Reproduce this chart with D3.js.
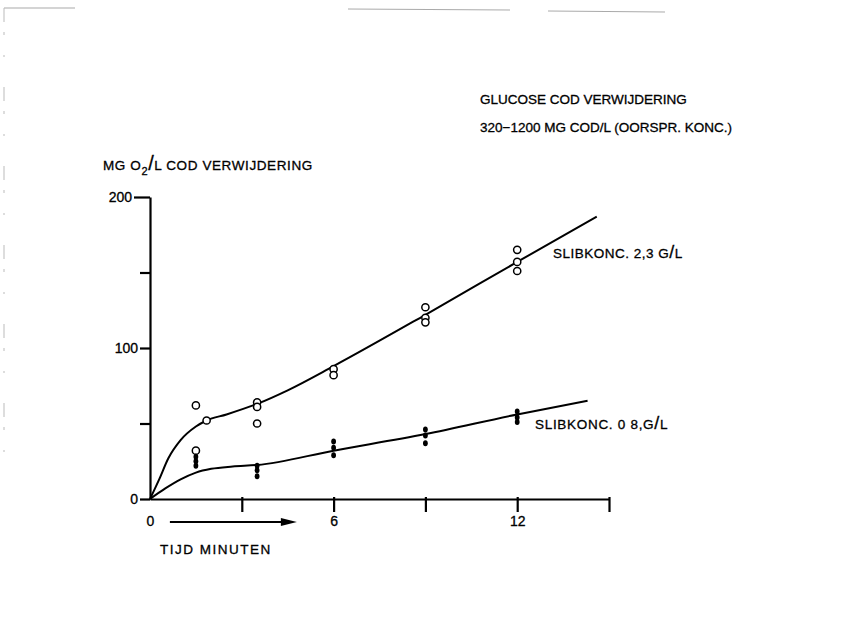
<!DOCTYPE html>
<html>
<head>
<meta charset="utf-8">
<script src="https://cdn.jsdelivr.net/npm/d3@7"></script>
<style>
  body { margin: 0; background: #fff; }
  text { font-family: "Liberation Sans", Arial, sans-serif; fill: #000; stroke: #000; stroke-width: 0.3px; }
</style>
</head>
<body>
<div id="chart"></div>
<script>
// tick values and labels
var xTicks = [0, 3, 6, 9, 12, 15];
var xTickLabels = { 0: "0", 6: "6", 12: "12" };
var yTicks = [0, 50, 100, 150, 200];
var yTickLabels = { 0: "0", 100: "100", 200: "200" };

// slibkonc 2,3 g/l - open circles (minutes, mg O2/l)
var hiTime  = [1.5, 1.5, 1.85, 3.5, 3.5, 3.5, 6, 6, 9, 9, 9, 12, 12, 12];
var hiValue = [62, 32, 52, 64, 61, 50, 86, 82, 127, 120, 117, 165, 157, 151];

// slibkonc 0,8 g/l - filled dots
var loTime  = [1.5, 1.5, 1.5, 3.5, 3.5, 3.5, 6, 6, 6, 9, 9, 9, 12, 12, 12];
var loValue = [28, 25, 22, 22, 19, 15, 38, 34, 29, 46, 42, 37, 58, 54, 51];

// hand drawn fit curves
var hiCurveTime  = [0, 0.3, 0.6, 1.0, 1.5, 1.85, 2.5, 3.5, 4.5, 6, 9, 12, 14.6];
var hiCurveValue = [0, 13, 27, 39, 48, 52, 56, 63, 72, 88, 122, 157, 187];
var loCurveTime  = [0, 0.5, 1.0, 1.5, 2.0, 2.7, 3.5, 6, 9, 12, 14.3];
var loCurveValue = [0, 7, 13, 17.5, 20, 21.5, 22.5, 32, 43, 56, 65];

var svgWidth = 851, svgHeight = 626;

var svg = d3.select("#chart").append("svg")
    .attr("width", svgWidth)
    .attr("height", svgHeight);

// scan edges of the original sheet
var scanEdges = [[4, 8, 75, 8], [348, 9, 510, 10], [548, 11, 665, 12]];
svg.selectAll(".edge").data(scanEdges).enter().append("line")
    .attr("x1", d => d[0]).attr("y1", d => d[1])
    .attr("x2", d => d[2]).attr("y2", d => d[3])
    .attr("stroke", "#aaa").attr("stroke-width", 1.2);
svg.append("line")
    .attr("x1", 4).attr("y1", 8).attr("x2", 4).attr("y2", 480)
    .attr("stroke", "#bbb").attr("stroke-width", 1)
    .attr("stroke-dasharray", "14 10 3 20 2 30");

var xScale = d3.scaleLinear().domain([0, 15]).range([150, 609]);
var yScale = d3.scaleLinear().domain([0, 200]).range([499, 197]);

// axes
var bottomAxis = d3.axisBottom(xScale)
    .tickValues(xTicks)
    .tickSize(13)
    .tickSizeOuter(0)
    .tickFormat(d => xTickLabels[d] || "");
var leftAxis = d3.axisLeft(yScale)
    .tickValues(yTicks)
    .tickSize(10)
    .tickSizeOuter(0)
    .tickFormat(d => yTickLabels[d] || "");

var gx = svg.append("g")
    .attr("transform", `translate(0, ${yScale(0)})`)
    .call(bottomAxis);
gx.selectAll(".tick line").attr("y1", -2);
gx.selectAll(".tick").filter(d => d == 0).select("line").remove();
gx.selectAll(".tick text").attr("dy", "0.35em").attr("y", 22);

var gy = svg.append("g")
    .attr("transform", `translate(${xScale(0)}, 0)`)
    .call(leftAxis);
gy.selectAll(".tick").filter(d => d == 200).select("line").attr("x2", -16);
gy.selectAll(".tick text").attr("x", d => d == 200 ? -18 : -12);

svg.selectAll(".domain, .tick line")
    .attr("stroke", "#000").attr("stroke-width", 2.2);
svg.selectAll(".tick text")
    .style("font-family", "Liberation Sans, Arial, sans-serif")
    .style("font-size", "14px").attr("fill", "#000");

// fitted curves
var line = d3.line()
    .x(d => xScale(d[0]))
    .y(d => yScale(d[1]))
    .curve(d3.curveMonotoneX);

svg.append("path")
    .datum(d3.zip(hiCurveTime, hiCurveValue))
    .attr("d", line)
    .attr("fill", "none").attr("stroke", "#000").attr("stroke-width", 2);
svg.append("path")
    .datum(d3.zip(loCurveTime, loCurveValue))
    .attr("d", line)
    .attr("fill", "none").attr("stroke", "#000").attr("stroke-width", 2);

// measured points
svg.selectAll(".hi").data(d3.zip(hiTime, hiValue)).enter().append("circle")
    .attr("cx", d => xScale(d[0]))
    .attr("cy", d => yScale(d[1]))
    .attr("r", 3.6)
    .attr("fill", "#fff")
    .attr("stroke", "#000").attr("stroke-width", 1.5);

svg.selectAll(".lo").data(d3.zip(loTime, loValue)).enter().append("ellipse")
    .attr("cx", d => xScale(d[0]))
    .attr("cy", d => yScale(d[1]))
    .attr("rx", 2.4).attr("ry", 3)
    .attr("fill", "#000");

// texts
function label(x, y, parts, size, spacing) {
    var t = svg.append("text").attr("x", x).attr("y", y)
        .style("font-size", (size || 13.5) + "px")
        .style("letter-spacing", (spacing || 0) + "px");
    parts.forEach(p => {
        var s = t.append("tspan").text(p.t);
        if (p.shift) s.attr("dy", p.shift);
        if (p.size) s.style("font-size", p.size + "px");
    });
    return t;
}

label(480, 104, [{ t: "GLUCOSE COD VERWIJDERING" }], 13.5);
label(480, 132, [{ t: "320\u22121200  MG COD/L (OORSPR. KONC.)" }], 13.5);

label(103, 170, [{ t: "MG O" }, { t: "2", shift: 5, size: 11 }, { t: "/", shift: -5, size: 20 }, { t: "L  COD VERWIJDERING" }], 13.5, 0.6);

label(553, 258, [{ t: "SLIBKONC.  2,3  G" }, { t: "/", size: 18 }, { t: "L" }], 13.5, 0.5);
label(535, 429, [{ t: "SLIBKONC.  0 8,G" }, { t: "/", size: 18 }, { t: "L" }], 13.5, 0.7);

label(160, 554, [{ t: "TIJD MINUTEN" }], 13.5, 1.5);

// time arrow under the axis
var arrowFrom = 0.65, arrowTo = 4.8;
var ay = yScale(0) + 23;
svg.append("line")
    .attr("x1", xScale(arrowFrom)).attr("y1", ay)
    .attr("x2", xScale(arrowTo) - 10).attr("y2", ay)
    .attr("stroke", "#000").attr("stroke-width", 2);
svg.append("path")
    .attr("d", `M${xScale(arrowTo)},${ay} L${xScale(arrowTo) - 16},${ay - 4} L${xScale(arrowTo) - 16},${ay + 4} Z`)
    .attr("fill", "#000");
</script>
</body>
</html>
